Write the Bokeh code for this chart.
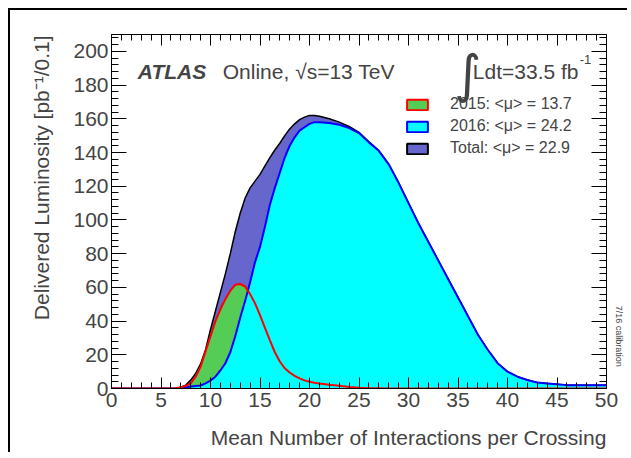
import numpy as np
from bokeh.plotting import figure
from bokeh.models import Range1d, LinearAxis, FixedTicker, Label, Legend, LegendItem
from bokeh.embed import file_html
from bokeh.resources import INLINE

# ---- data ----
mu = [0, 6, 6.5, 7, 7.5, 8, 8.5, 9, 9.5, 10, 10.5, 11, 11.5, 12, 12.5, 13, 13.5, 14, 14.5,
      15, 15.5, 16, 16.5, 17, 17.5, 18, 18.5, 19, 19.5, 20, 20.5, 21, 22, 23, 24, 25, 26,
      27, 28, 29, 30, 31, 32, 33, 34, 35, 36, 37, 38, 39, 40, 41, 42, 43, 44, 45, 46, 47,
      48, 49, 50]
lumi_2015 = [0, 0, 0.2, 0.7, 1.5, 3, 7, 13, 22, 31, 40, 47, 53, 58, 61.5, 62, 60.5, 56, 50.5,
             43.5, 36, 28.5, 21.5, 16, 12, 9.5, 7.5, 6, 4.8, 4, 3.4, 2.9, 2.2, 1.6, 0.9, 0.5, 0.2,
             0.1, 0, 0, 0, 0, 0, 0, 0, 0, 0, 0, 0, 0, 0, 0, 0, 0, 0, 0, 0, 0,
             0, 0, 0]
lumi_2016 = [0, 0, 0, 0.2, 0.6, 1.2, 1.5, 1.8, 3, 4.7, 7, 10.7, 15, 21.5, 31, 42, 52, 63, 75,
             84, 96, 109, 119, 128, 137, 144, 149, 153, 155, 157, 158, 158, 157.5, 156.5, 154.5, 151.5, 146,
             141, 133, 122, 110, 98, 87, 76, 65, 54, 43, 32, 23, 15, 10, 7, 5, 3.5, 3, 2.5, 2, 2,
             2, 2, 2]
lumi_total = [0, 0, 0.2, 0.8, 2, 5, 9, 14.6, 23, 35, 46, 57, 68, 80, 93, 104, 113, 119, 123,
              127, 132, 137, 141.5, 145.5, 150, 154, 157, 159.5, 161, 162, 162, 161.5, 160, 158, 155.5, 152, 146.3,
              141.1, 133, 122, 110, 98, 87, 76, 65, 54, 43, 32, 23, 15, 10, 7, 5, 3.5, 3, 2.5, 2, 2,
              2, 2, 2]
x_ticks = [0, 5, 10, 15, 20, 25, 30, 35, 40, 45, 50]
y_ticks = [0, 20, 40, 60, 80, 100, 120, 140, 160, 180, 200]
legend_labels = ["2015: <\u03bc> = 13.7", "2016: <\u03bc> = 24.2", "Total: <\u03bc> = 22.9"]
x_title = "Mean Number of Interactions per Crossing"
y_title = "Delivered Luminosity [pb\u207b\u00b9/0.1]"
calib_note = "7/16 calibration"

FONT = "Liberation Sans"
GREEN = "#55cc55"
CYAN = "#00ffff"
SLATE = "#6666cc"

p = figure(width=619, height=444, output_backend="svg", toolbar_location=None,
           x_range=Range1d(0, 50), y_range=Range1d(0, 210),
           min_border_left=101, min_border_right=23, min_border_top=24, min_border_bottom=66)
# canvas frame: only its left and top edges fall inside the window
p.styles = {"margin-left": "10px", "margin-top": "10px",
            "box-shadow": "-2px -2px 0px 0px black"}
p.grid.visible = False
p.outline_line_color = "black"
p.outline_line_width = 1
p.background_fill_color = "white"
p.border_fill_color = "white"

# main axes
for ax in (p.xaxis[0], p.yaxis[0]):
    ax.major_tick_out = 0
    ax.minor_tick_out = 0
    ax.major_label_text_font = FONT
    ax.major_label_text_font_size = "21px"
    ax.axis_line_color = "black"

p.xaxis.ticker = FixedTicker(ticks=x_ticks, minor_ticks=list(range(0, 51)))
p.yaxis.ticker = FixedTicker(ticks=y_ticks, minor_ticks=list(range(0, 211, 4)))
p.xaxis.major_tick_in = 11
p.xaxis.minor_tick_in = 6
p.yaxis.major_tick_in = 15
p.yaxis.minor_tick_in = 7
p.xaxis.major_label_standoff = 4
p.yaxis.major_label_standoff = 3

top = LinearAxis(ticker=FixedTicker(ticks=x_ticks, minor_ticks=list(range(0, 51))),
                 major_tick_in=11, major_tick_out=0, minor_tick_in=6, minor_tick_out=0,
                 major_label_text_font_size="0px", major_label_standoff=0)
right = LinearAxis(ticker=FixedTicker(ticks=y_ticks, minor_ticks=list(range(0, 211, 4))),
                   major_tick_in=15, major_tick_out=0, minor_tick_in=7, minor_tick_out=0,
                   major_label_text_font_size="0px", major_label_standoff=0)
p.add_layout(top, "above")
p.add_layout(right, "right")


def title_axis(text, at, size, standoff, orientation):
    # an axis that draws nothing but one label, centred at data position `at`
    return LinearAxis(ticker=FixedTicker(ticks=[at], minor_ticks=[]), axis_line_color=None,
                      major_tick_in=0, major_tick_out=0, minor_tick_in=0, minor_tick_out=0,
                      major_label_overrides={at: text}, major_label_text_font=FONT,
                      major_label_text_font_size=size, major_label_standoff=standoff,
                      major_label_orientation=orientation)


# axis titles, right-aligned to the far end of each axis as in ROOT
p.add_layout(title_axis(x_title, 30, "21px", 16, "horizontal"), "below")
p.add_layout(title_axis(y_title, 125, "21px", 17, "vertical"), "left")
p.add_layout(title_axis(calib_note, 31, "9px", 7, "vertical"), "right")

# histograms
p.varea(x=mu, y1=0, y2=lumi_total, fill_color=SLATE)
p.line(x=mu, y=lumi_total, line_color="black", line_width=1.5)
p.varea(x=mu, y1=0, y2=lumi_2015, fill_color=GREEN)
p.varea(x=mu, y1=0, y2=lumi_2016, fill_color=CYAN)
p.line(x=mu, y=lumi_2016, line_color="blue", line_width=2)
p.line(x=mu, y=lumi_2015, line_color="red", line_width=2)

# legend (icons only; renderers hold no drawable data)
nan = [float("nan")]
r15 = p.quad(left=nan, right=nan, top=nan, bottom=nan, fill_color=GREEN, line_color="red", line_width=2)
r16 = p.quad(left=nan, right=nan, top=nan, bottom=nan, fill_color=CYAN, line_color="blue", line_width=2)
rtot = p.quad(left=nan, right=nan, top=nan, bottom=nan, fill_color=SLATE, line_color="black", line_width=2)
legend = Legend(items=[LegendItem(label=legend_labels[0], renderers=[r15]),
                       LegendItem(label=legend_labels[1], renderers=[r16]),
                       LegendItem(label=legend_labels[2], renderers=[rtot])],
                location=(293, 230), border_line_color=None, background_fill_alpha=0,
                padding=0, margin=0, spacing=2, glyph_width=26, glyph_height=13,
                label_standoff=20, label_text_font=FONT, label_text_font_size="16px",
                label_height=20)
p.add_layout(legend)

# texts
p.add_layout(Label(x=2.66, y=188, text="ATLAS", text_font=FONT, text_font_size="21px",
                   text_font_style="bold italic", text_baseline="alphabetic"))
p.add_layout(Label(x=11.24, y=188, text="Online, \u221as=13 TeV", text_font=FONT,
                   text_font_size="21px", text_baseline="alphabetic"))
p.add_layout(Label(x=34.6, y=186.6, text="\u222b", text_font="DejaVu Sans", text_font_size="52px",
                   text_baseline="middle"))
p.add_layout(Label(x=36.5, y=188, text="Ldt=33.5 fb", text_font=FONT, text_font_size="21px",
                   text_baseline="alphabetic"))
p.add_layout(Label(x=47.3, y=195, text="-1", text_font=FONT, text_font_size="13px",
                   text_baseline="alphabetic"))

open("out.html", "w").write(file_html(p, INLINE))
